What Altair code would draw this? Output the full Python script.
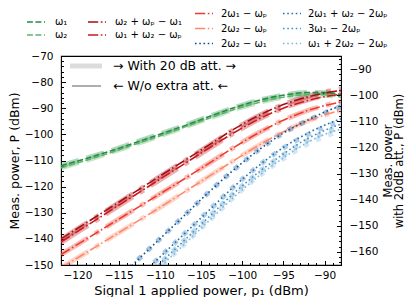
import altair as alt
import pandas as pd

FONT = "DejaVu Sans"

# Signal 1 applied power (dBm)
X_DBM = [-122, -119, -116, -113, -110, -107, -104, -101, -98, -95, -92, -90, -88]

LABELS = ["ω₁", "ω₂", "ω₂ + ωₚ − ω₁", "ω₁ + ω₂ − ωₚ", "2ω₁ − ωₚ", "2ω₂ − ωₚ",
          "2ω₂ − ω₁", "2ω₁ + ω₂ − 2ωₚ", "3ω₁ − 2ωₚ", "ω₁ + 2ω₂ − 2ωₚ"]
COLORS = ["#238b45", "#5cb466", "#a50f15", "#cb181d", "#ef3b2c", "#fc8a6a",
          "#08519c", "#2171b5", "#4292c6", "#7db8e0"]
STYLES = ["dash", "dash", "dashdot", "dashdot", "dashdot", "dashdot",
          "dot", "dot", "dot", "dot"]

# measured power without extra attenuation (left axis, dBm)
W1_THIN = [-112.0, -109.3, -106.4, -103.2, -100.0, -96.7, -93.2, -89.8, -87.0, -85.0, -84.0, -84.0, -84.8]
W2_THIN = [-112.8, -110.0, -107.0, -103.8, -100.6, -97.2, -93.8, -90.5, -87.8, -85.8, -84.8, -84.8, -85.8]
R1_THIN = [-140.0, -134.0, -128.0, -122.0, -116.0, -110.0, -104.0, -98.0, -92.8, -88.6, -85.6, -84.2, -83.2]
R2_THIN = [-141.2, -135.2, -129.2, -123.2, -117.2, -111.2, -105.2, -99.4, -94.2, -90.0, -87.0, -85.6, -84.6]
R3_THIN = [-146.0, -140.2, -134.4, -128.6, -122.8, -117.0, -111.0, -105.0, -99.4, -94.6, -90.8, -89.0, -87.6]
R4_THIN = [-151.0, -145.4, -139.6, -133.8, -128.0, -122.0, -116.0, -110.0, -104.2, -99.0, -94.8, -92.6, -90.8]
B1_THIN = [-176.0, -167.0, -158.0, -149.0, -140.0, -131.0, -122.0, -113.5, -106.0, -99.5, -94.5, -91.5, -89.0]
B2_THIN = [-185.0, -176.0, -167.0, -156.0, -147.0, -138.0, -129.0, -120.0, -112.0, -105.0, -99.5, -96.5, -94.0]
B3_THIN = [-188.0, -179.0, -170.0, -159.0, -149.5, -140.5, -131.5, -122.5, -114.5, -107.5, -101.5, -98.5, -96.0]
B4_THIN = [-190.0, -181.0, -172.0, -161.0, -151.0, -142.0, -133.0, -124.0, -116.0, -109.0, -103.0, -100.0, -98.0]

# measured power with 20 dB attenuation (right axis, dBm)
W1_ATT = [-127.0, -124.2, -121.3, -118.1, -114.9, -111.6, -108.1, -104.8, -102.0, -100.0, -99.0, -99.1, -99.8]
W2_ATT = [-127.8, -125.0, -122.0, -118.8, -115.6, -112.2, -108.8, -105.5, -102.8, -100.8, -99.9, -100.0, -100.8]
R1_ATT = [-155.2, -149.2, -143.2, -137.2, -131.2, -125.2, -119.2, -113.2, -107.9, -103.6, -100.4, -98.8, -97.6]
R2_ATT = [-156.4, -150.4, -144.4, -138.4, -132.4, -126.4, -120.4, -114.5, -109.2, -104.9, -101.8, -100.2, -99.0]
R3_ATT = [-161.0, -155.2, -149.4, -143.6, -137.8, -132.0, -126.0, -120.0, -114.4, -109.6, -105.8, -104.0, -102.4]
R4_ATT = [-166.0, -160.4, -154.6, -148.8, -143.0, -137.0, -131.0, -125.0, -119.2, -114.0, -109.8, -107.6, -105.8]
B1_ATT = [-191.0, -182.0, -173.0, -164.0, -155.0, -146.0, -137.0, -128.5, -121.0, -114.5, -109.6, -106.8, -104.4]
B2_ATT = [-200.0, -191.0, -182.0, -171.0, -162.0, -153.0, -144.0, -135.0, -127.0, -120.2, -115.0, -112.2, -110.0]
B3_ATT = [-203.0, -194.0, -185.0, -174.0, -164.5, -155.5, -146.5, -137.5, -129.5, -122.8, -117.2, -114.4, -112.2]
B4_ATT = [-205.0, -196.0, -187.0, -176.0, -166.0, -157.0, -148.0, -139.0, -131.0, -124.3, -118.6, -115.8, -113.6]

THIN = [W1_THIN, W2_THIN, R1_THIN, R2_THIN, R3_THIN, R4_THIN, B1_THIN, B2_THIN, B3_THIN, B4_THIN]
ATT = [W1_ATT, W2_ATT, R1_ATT, R2_ATT, R3_ATT, R4_ATT, B1_ATT, B2_ATT, B3_ATT, B4_ATT]

THIN_W = 1.6
THICK_W = 5.0


def dash(style, lw):
    base = {"dash": [3.7, 1.6], "dashdot": [6.4, 1.6, 1.0, 1.6], "dot": [1.0, 1.65]}[style]
    return [round(v * lw, 2) for v in base]


# axes ------------------------------------------------------------------
x_axis = alt.Axis(
    orient="bottom",
    values=list(range(-122, -87)),
    labelExpr="datum.value % 5 == 0 ? datum.label : ''",
    tickSize={"expr": "datum.value % 5 == 0 ? -4.5 : -2.5"},
    labelPadding=9.5,
    labelFlush=False,
    domain=False, grid=False,
    title="Signal 1 applied power, p₁ (dBm)",
    titlePadding=4,
)
left_axis = alt.Axis(
    orient="left",
    values=list(range(-150, -69, 2)),
    labelExpr="datum.value % 10 == 0 ? datum.label : ''",
    tickSize={"expr": "datum.value % 10 == 0 ? -4.5 : -2.5"},
    labelPadding=12.5,
    domain=False, grid=False,
    title="Meas. power, P (dBm)",
    titleFontSize=12.5,
    titlePadding=3,
)
right_axis = alt.Axis(
    orient="right",
    values=list(range(-164, -84, 2)),
    labelExpr="datum.value % 10 == 0 ? datum.label : ''",
    tickSize={"expr": "datum.value % 10 == 0 ? -4.5 : -2.5"},
    labelPadding=12.5,
    domain=False, grid=False,
    title=["Meas. power", "with 20dB att., P (dBm)"],
    titleAngle=270,
    titleFontSize=11.5,
    titleLineHeight=11.5,
    titlePadding=4,
)

x_enc = alt.X("x:Q", scale=alt.Scale(domain=[-122, -88], nice=False, zero=False), axis=x_axis)
yl_enc = alt.Y("y:Q", scale=alt.Scale(domain=[-150, -70], nice=False, zero=False), axis=left_axis)
yr_enc = alt.Y("y:Q", scale=alt.Scale(domain=[-165, -85], nice=False, zero=False), axis=right_axis)

thick_layers, thin_layers = [], []
for i in range(len(LABELS)):
    d_att = pd.DataFrame({"x": X_DBM, "y": ATT[i]})
    d_thin = pd.DataFrame({"x": X_DBM, "y": THIN[i]})
    thick_layers.append(
        alt.Chart(d_att).mark_line(
            clip=True, interpolate="monotone", color=COLORS[i], opacity=0.35,
            strokeWidth=THICK_W, strokeDash=dash(STYLES[i], THICK_W),
        ).encode(x=x_enc, y=yr_enc)
    )
    thin_layers.append(
        alt.Chart(d_thin).mark_line(
            clip=True, interpolate="monotone", color=COLORS[i],
            strokeWidth=THIN_W, strokeDash=dash(STYLES[i], THIN_W),
        ).encode(x=x_enc, y=yl_enc)
    )

# legend (above the plot) -------------------------------------------------
one = pd.DataFrame({"k": [0]})
LEG_COL = [0, 0, 1, 1, 2, 2, 2, 3, 3, 3]
LEG_ROW = [0, 1, 0, 1, 0, 1, 2, 0, 1, 2]
COL_X = [-34, 27, 134, 222]
COL_TX = [-6, 54, 160, 247]
ROWS_2 = [-34, -21]
ROWS_3 = [-42.5, -27.5, -12.5]
legend_layers = []
for i in range(len(LABELS)):
    c = LEG_COL[i]
    yy = ROWS_2[LEG_ROW[i]] if c < 2 else ROWS_3[LEG_ROW[i]]
    legend_layers.append(
        alt.Chart(one).mark_rule(color=COLORS[i], strokeWidth=THIN_W,
                                 strokeDash=dash(STYLES[i], THIN_W)).encode(
            x=alt.value(COL_X[c]), x2=alt.value(COL_X[c] + 18), y=alt.value(yy))
    )
    legend_layers.append(
        alt.Chart(one).mark_text(align="left", baseline="middle", fontSize=10,
                                 font=FONT, color="black").encode(
            x=alt.value(COL_TX[c]), y=alt.value(yy), text=alt.value(LABELS[i]))
    )

# inner legend for the two measurement kinds
KIND_TEXT = ["→ With 20 dB att. →", "← W/o extra att. ←"]
inner = [
    alt.Chart(one).mark_rule(color="#9a9a9a", opacity=0.35, strokeWidth=THICK_W).encode(
        x=alt.value(9), x2=alt.value(41), y=alt.value(10)),
    alt.Chart(one).mark_rule(color="#9a9a9a", strokeWidth=THIN_W).encode(
        x=alt.value(11), x2=alt.value(40), y=alt.value(30)),
    alt.Chart(one).mark_text(align="left", baseline="middle", fontSize=12.5, font=FONT,
                             color="black").encode(
        x=alt.value(52), y=alt.value(10), text=alt.value(KIND_TEXT[0])),
    alt.Chart(one).mark_text(align="left", baseline="middle", fontSize=12.5, font=FONT,
                             color="black").encode(
        x=alt.value(52), y=alt.value(30), text=alt.value(KIND_TEXT[1])),
]

chart = alt.layer(
    alt.layer(*thick_layers),
    alt.layer(*thin_layers),
    *legend_layers,
    *inner,
).resolve_scale(y="independent").properties(
    width=280, height=209,
    autosize=alt.AutoSizeParams(type="none"),
    padding={"left": 53, "top": 48, "right": 67, "bottom": 32},
).configure(font=FONT).configure_view(
    stroke="black", strokeWidth=1.1
).configure_axis(
    labelFont=FONT, titleFont=FONT, labelFontSize=10.5, titleFontSize=13,
    labelColor="black", titleColor="black", tickColor="black", tickWidth=1,
    titleFontWeight="normal",
)

chart.save("out.html", embed_options={"renderer": "svg", "actions": False})
